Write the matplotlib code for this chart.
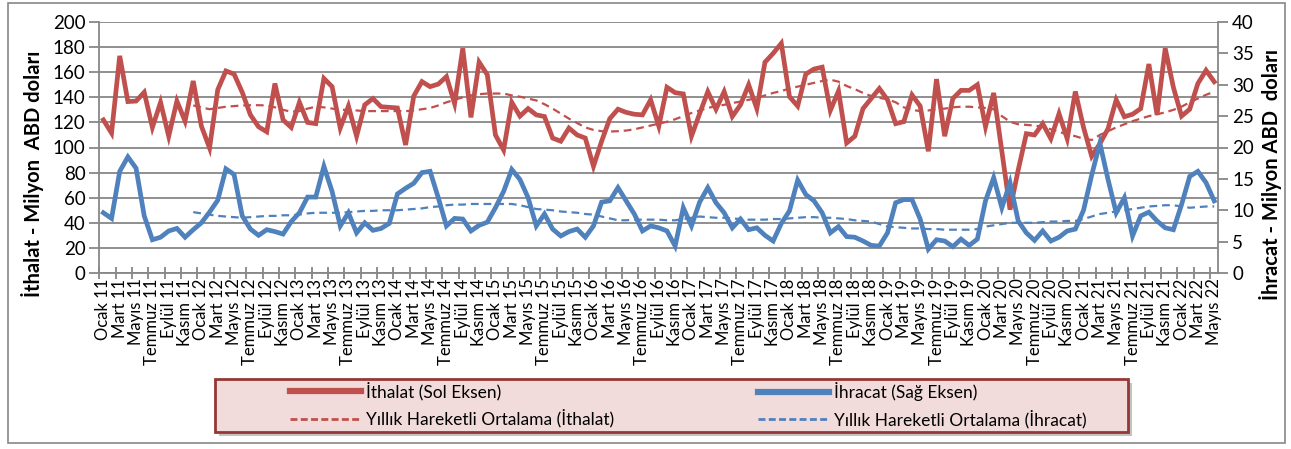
import matplotlib.pyplot as plt
import numpy as np
from matplotlib.patches import Rectangle
from matplotlib.lines import Line2D

plt.rcParams['font.family'] = ['Lato', 'DejaVu Sans']

# kategoriler
aylar = ['Ocak', 'Şubat', 'Mart', 'Nisan', 'Mayıs', 'Haziran',
         'Temmuz', 'Ağustos', 'Eylül', 'Ekim', 'Kasım', 'Aralık']
yillar = ['11', '12', '13', '14', '15', '16', '17', '18', '19', '20', '21', '22']
donemler = [a + ' ' + y for y in yillar for a in aylar][:137]

# İthalat (milyon ABD doları, sol eksen)
ithalat = [
    122, 111.5, 173, 136.6, 137, 144, 116, 136, 109, 137, 121, 153,
    117, 99.6, 146, 161, 158.5, 144, 126, 116.5, 112.5, 151, 122, 116,
    136, 120, 119, 155, 148.5, 115.5, 133, 109, 134, 139, 132.5, 132,
    131.5, 102, 141, 152.5, 148.5, 150.5, 156.5, 135, 179, 124, 168, 158,
    110, 98, 136, 125, 131, 126, 124.7, 107.5, 105, 115.5, 110, 107.5,
    85, 105, 123, 130.5, 128, 126.5, 126, 138, 117, 148, 143.7, 142.7,
    109, 127, 144.5, 130.5, 144.5, 124.7, 134, 150, 131, 168, 175, 183,
    140.5, 133, 158.5, 162.5, 164, 129.5, 145, 103.6, 109, 131, 139, 147,
    138, 119, 120.6, 141.9, 133, 97, 154.5, 109, 139, 145.5, 145.5, 150,
    116.6, 143.5, 97, 50.5, 82, 111, 110, 119, 107, 127, 107, 144.6,
    116, 93, 103, 115, 138, 124.5, 126.5, 131, 166.5, 126, 179, 148,
    125, 130.5, 151, 161.5, 152.4]

# İhracat (milyon ABD doları, sağ eksen)
ihracat = [
    9.6, 8.7, 16.2, 18.5, 16.7, 9.1, 5.3, 5.7, 6.7, 7.1, 5.7, 6.9,
    8.0, 9.7, 11.6, 16.6, 15.7, 9.1, 7.0, 6.0, 6.9, 6.6, 6.2, 8.2,
    9.6, 12.1, 12.1, 17.0, 13.0, 7.5, 9.6, 6.4, 8.0, 6.8, 7.1, 7.9,
    12.6, 13.5, 14.3, 16.0, 16.2, 12.0, 7.5, 8.7, 8.6, 6.7, 7.6, 8.1,
    10.4, 13.0, 16.5, 14.9, 12.0, 7.5, 9.4, 7.0, 5.9, 6.6, 7.0, 5.7,
    7.5, 11.3, 11.5, 13.6, 11.5, 9.4, 6.7, 7.5, 7.2, 6.7, 4.3, 10.4,
    7.5, 11.3, 13.6, 11.2, 9.6, 7.2, 8.6, 6.9, 7.2, 6.0, 5.1, 7.9,
    9.9, 14.8, 12.5, 11.5, 9.6, 6.4, 7.4, 5.8, 5.7, 5.1, 4.4, 4.3,
    6.4, 11.2, 11.7, 11.7, 8.6, 3.8, 5.3, 5.1, 4.2, 5.4, 4.4, 5.4,
    11.5, 15.2, 10.4, 14.4, 8.3, 6.4, 5.2, 6.7, 5.1, 5.7, 6.7, 7.0,
    10.0, 15.6, 20.7, 14.9, 9.6, 12.0, 5.9, 9.1, 9.7, 8.3, 7.2, 6.9,
    10.9, 15.4, 16.2, 14.4, 11.5]

# Yıllık hareketli ortalamalar (Aralık 11'den itibaren)
ort_baslangic = 11
ithalat_ort = [
    133.5, 132, 130.5, 131.5, 132.5, 133, 133.5, 133.7, 133.7, 133.5,
    132, 130, 128.5, 129, 131, 132.5, 132, 131, 130, 130,
    129.5, 129, 129, 129, 129, 129, 129, 129.5, 130.5, 131.5,
    133.5, 136, 138, 140, 141.5, 142.5, 143, 143, 143, 141.5,
    140.5, 139, 137.5, 134.5, 131, 127, 123, 119.5, 116, 114,
    113, 112.7, 113, 113.5, 114.5, 116, 117.5, 119, 120.5, 122.5,
    125, 127.5, 129.5, 131.5, 133, 134, 135.5, 136.5, 138, 139.5,
    141.5, 143.5, 145, 147, 148.5, 150, 151.5, 153, 154, 152.5,
    149, 146.5, 143.5, 141, 139.5, 138.5, 136, 132, 130, 129,
    129.5, 130.5, 131, 132, 132.5, 132.5, 132, 131.5, 130.5, 125,
    120.5, 118.5, 118, 117.5, 116.5, 114.5, 112.5, 110.5, 109, 107,
    106, 110, 113, 116, 118.5, 121, 123, 125, 126.5, 128,
    130, 132.5, 136, 139, 142, 144.5]
ihracat_ort = [
    9.7, 9.5, 9.3, 9.1, 9.0, 8.9, 8.8, 8.9, 9.0, 9.1,
    9.1, 9.2, 9.2, 9.3, 9.5, 9.6, 9.6, 9.6, 9.6, 9.7,
    9.8, 9.9, 9.9, 10.0, 10.0, 10.0, 10.1, 10.2, 10.3, 10.5,
    10.6, 10.8, 10.9, 10.9, 11.0, 11.0, 11.0, 11.0, 11.0, 11.0,
    10.8, 10.5, 10.2, 10.1, 10.0, 9.8, 9.7, 9.6, 9.4, 9.3,
    9.0, 8.7, 8.4, 8.4, 8.5, 8.5, 8.5, 8.5, 8.4, 8.4,
    8.6, 8.8, 9.0, 8.9, 8.8, 8.8, 8.7, 8.6, 8.5, 8.5,
    8.5, 8.6, 8.6, 8.7, 8.8, 8.9, 8.9, 8.8, 8.8, 8.7,
    8.6, 8.4, 8.3, 8.2, 7.8, 7.4, 7.3, 7.2, 7.1, 7.1,
    7.0, 7.0, 6.9, 6.9, 6.9, 6.9, 7.0, 7.4, 7.6, 7.8,
    8.0, 8.0, 8.0, 8.0, 8.1, 8.2, 8.2, 8.3, 8.3, 8.6,
    9.0, 9.4, 9.6, 9.8, 10.0, 10.2, 10.4, 10.6, 10.7, 10.8,
    10.8, 10.6, 10.4, 10.5, 10.6, 10.6]

kirmizi = '#C0504D'
mavi = '#4F81BD'
gri = '#878787'

x = np.arange(len(donemler))
x_ort = np.arange(ort_baslangic, len(donemler))

W, H = 1291, 449
fig = plt.figure(figsize=(W / 100, H / 100), dpi=100)

# dış çerçeve
fig.add_artist(Rectangle((8 / W, 6 / H), 1277 / W, 440 / H, transform=fig.transFigure,
                         fill=False, edgecolor=gri, lw=1.2))

ax = fig.add_axes([99.3 / W, 1 - 273 / H, 1119 / W, 251 / H])
ax2 = ax.twinx()

ax.plot(x, ithalat, color=kirmizi, lw=3.4, solid_joinstyle='miter', zorder=3)
ax.plot(x_ort, ithalat_ort, color=kirmizi, lw=1.6, dashes=(3.5, 2.2), zorder=3)
ax2.plot(x, ihracat, color=mavi, lw=3.4, solid_joinstyle='miter', zorder=3)
ax2.plot(x_ort, ihracat_ort, color=mavi, lw=1.6, dashes=(3.5, 2.2), zorder=3)

ax.set_xlim(-0.5, len(donemler) - 0.5)
ax.set_ylim(0, 200)
ax2.set_ylim(0, 40)
ax.set_yticks(np.arange(0, 201, 20))
ax2.set_yticks(np.arange(0, 41, 5))

ax.yaxis.grid(True, color=gri, lw=1.3)
ax.set_axisbelow(True)

ax.set_xticks(x[::2])
ax.set_xticklabels(donemler[::2], rotation=90, fontsize=12)
ax.tick_params(axis='x', length=0, pad=4)
ax.set_xticks(np.arange(-0.5, len(donemler) - 1, 2), minor=True)
ax.tick_params(axis='x', which='minor', length=9, direction='inout', color=gri, width=1.3)
ax.tick_params(axis='y', length=7, direction='out', color=gri, width=1.3, labelsize=13.5, pad=3)
ax2.tick_params(axis='y', length=7, direction='out', color=gri, width=1.3, labelsize=13.5, pad=3)

ax.spines['top'].set_visible(False)
ax2.spines['top'].set_visible(False)
ax2.spines['left'].set_visible(False)
ax2.spines['bottom'].set_visible(False)
ax.spines['right'].set_visible(False)
for s in ['left', 'bottom']:
    ax.spines[s].set_color(gri)
    ax.spines[s].set_linewidth(1.3)
ax2.spines['right'].set_color(gri)
ax2.spines['right'].set_linewidth(1.3)

fig.text(33 / W, 1 - 174 / H, 'İthalat - Milyon  ABD doları', rotation=90,
         ha='center', va='center', fontsize=14.5, fontweight='bold')
fig.text(1271 / W, 1 - 174 / H, 'İhracat - Milyon ABD  doları', rotation=90,
         ha='center', va='center', fontsize=14.5, fontweight='bold')

# lejant kutusu
fig.add_artist(Rectangle((219 / W, 1 - 436 / H), 913 / W, 53 / H, transform=fig.transFigure,
                         facecolor='#9a9a9a', edgecolor='none', alpha=0.6))
fig.add_artist(Rectangle((215 / W, 1 - 432 / H), 913 / W, 53 / H, transform=fig.transFigure,
                         facecolor='#F2DCDB', edgecolor='#953735', lw=2))

h1 = Line2D([], [], color=kirmizi, lw=4.5)
h2 = Line2D([], [], color=kirmizi, lw=2, dashes=(2.5, 1.2))
h3 = Line2D([], [], color=mavi, lw=4.5)
h4 = Line2D([], [], color=mavi, lw=2, dashes=(2.5, 1.2))
ortak = dict(loc='upper left', frameon=False, fontsize=12.5, handlelength=4.1,
             handletextpad=0.3, borderpad=0, borderaxespad=0, labelspacing=0.5)
fig.legend([h1, h2], ['İthalat (Sol Eksen)', 'Yıllık Hareketli Ortalama (İthalat)'],
           bbox_to_anchor=(290 / W, 1 - 382 / H), **ortak)
fig.legend([h3, h4], ['İhracat (Sağ Eksen)', 'Yıllık Hareketli Ortalama (İhracat)'],
           bbox_to_anchor=(758 / W, 1 - 382 / H), **ortak)

fig.savefig('out.png', dpi=100)
